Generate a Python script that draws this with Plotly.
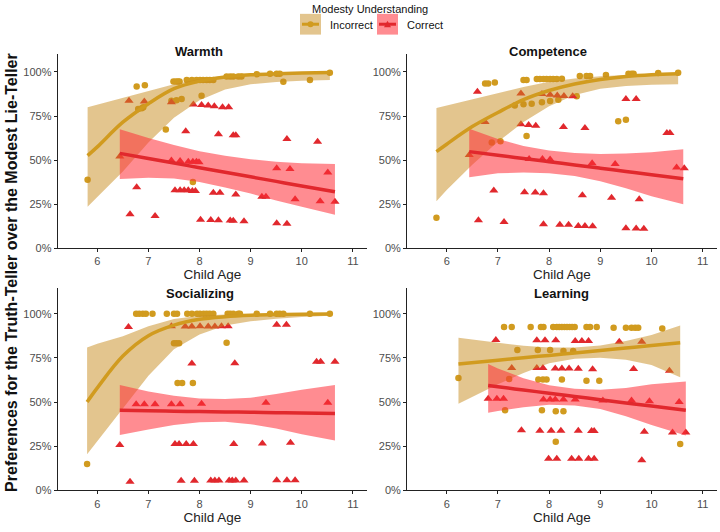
import plotly.graph_objects as go

# ---------------- data ----------------
warmth_inc_age = [5.81, 6.77, 6.93, 6.80, 6.87, 6.90, 7.34, 7.49, 7.54, 7.58, 7.61, 7.45, 7.55, 7.65, 7.87,
                  7.75, 7.85, 7.94, 8.01, 8.07, 8.14, 8.20, 8.27, 8.04, 8.53, 8.60, 8.66, 8.76, 8.82,
                  9.12, 9.38, 9.51, 9.57, 9.64, 10.16, 10.55]
warmth_inc_pref = [0.389, 0.918, 0.925, 0.79, 0.794, 0.80, 0.673, 0.946, 0.946, 0.946, 0.946, 0.837, 0.84, 0.847, 0.376,
                   0.955, 0.955, 0.955, 0.955, 0.955, 0.955, 0.955, 0.955, 0.865, 0.974, 0.974, 0.974, 0.974, 0.974,
                   0.987, 0.99, 0.99, 0.99, 0.944, 0.955, 0.996]
warmth_cor_age = [6.62, 6.92, 7.45, 6.44, 7.88, 8.04, 8.17, 8.29, 8.45, 8.57, 7.73, 8.37, 8.66, 8.71, 9.71, 10.31,
                  7.45, 7.62, 7.78, 7.87, 7.94, 7.99, 9.51, 9.77, 10.51, 6.77, 7.52, 7.62, 7.70, 7.78, 7.86, 7.92,
                  8.27, 8.40, 8.71, 9.22, 9.30, 9.87, 10.36, 10.65, 6.64, 7.13, 8.02, 8.22, 8.37, 8.60, 8.66, 8.87,
                  9.51, 9.71]
warmth_cor_pref = [0.837, 0.832, 0.828, 0.52, 0.815, 0.813, 0.81, 0.806, 0.80, 0.80, 0.664, 0.647, 0.641, 0.641, 0.619, 0.604,
                   0.497, 0.495, 0.49, 0.49, 0.49, 0.488, 0.454, 0.449, 0.43, 0.346, 0.329, 0.329, 0.329, 0.329, 0.324, 0.324,
                   0.314, 0.314, 0.305, 0.292, 0.292, 0.277, 0.267, 0.264, 0.193, 0.183, 0.162, 0.16, 0.158, 0.157, 0.155, 0.153,
                   0.142, 0.138]
warmth_inc_fit_age = [5.81, 6.0, 6.5, 7.0, 7.5, 8.0, 8.5, 9.0, 9.5, 10.0, 10.55]
warmth_inc_fit = [0.525, 0.575, 0.715, 0.82, 0.905, 0.948, 0.972, 0.984, 0.99, 0.994, 0.997]
warmth_inc_hi = [0.80, 0.815, 0.85, 0.89, 0.93, 0.96, 0.978, 0.987, 0.993, 0.996, 0.998]
warmth_inc_lo = [0.235, 0.29, 0.435, 0.60, 0.74, 0.84, 0.90, 0.93, 0.943, 0.95, 0.955]
warmth_cor_fit_age = [6.44, 7.0, 7.5, 8.0, 8.5, 9.0, 9.5, 10.0, 10.65]
warmth_cor_fit = [0.538, 0.509, 0.483, 0.457, 0.431, 0.405, 0.379, 0.353, 0.32]
warmth_cor_hi = [0.675, 0.625, 0.585, 0.55, 0.525, 0.505, 0.49, 0.482, 0.478]
warmth_cor_lo = [0.393, 0.40, 0.395, 0.375, 0.345, 0.31, 0.27, 0.235, 0.189]

competence_inc_age = [5.80, 6.75, 6.81, 6.94, 6.88, 7.05, 7.33, 7.50, 7.66, 7.86, 8.02, 8.18,
                      7.50, 7.56, 7.76, 7.82, 7.89, 7.95, 8.02, 8.08, 8.15, 8.25,
                      7.56, 8.54, 8.60, 8.73, 8.80, 9.11, 9.55, 9.61, 9.65, 9.35, 9.50, 10.13, 10.52]
competence_inc_pref = [0.172, 0.935, 0.935, 0.94, 0.60, 0.607, 0.81, 0.817, 0.82, 0.828, 0.836, 0.843,
                       0.955, 0.955, 0.96, 0.96, 0.96, 0.96, 0.96, 0.96, 0.96, 0.962,
                       0.636, 0.862, 0.977, 0.977, 0.977, 0.983, 0.99, 0.99, 0.99, 0.72, 0.729, 0.994, 0.996]
competence_cor_age = [6.60, 6.75, 6.44, 7.45, 7.45, 7.60, 7.74, 7.86, 8.02, 8.16, 8.29, 8.46,
                      8.28, 8.70, 7.61, 7.87, 8.02, 8.84, 9.29, 9.50, 9.70, 10.30, 10.36, 10.49, 10.64,
                      6.92, 7.52, 7.73, 7.89, 8.65, 9.22, 9.76,
                      6.62, 7.12, 7.89, 8.21, 8.38, 8.57, 8.70, 8.85, 9.50, 9.70, 9.85]
competence_cor_pref = [0.888, 0.716, 0.529, 0.878, 0.703, 0.699, 0.695, 0.875, 0.871, 0.867, 0.864, 0.862,
                       0.688, 0.682, 0.506, 0.506, 0.503, 0.482, 0.478, 0.847, 0.847, 0.654, 0.654, 0.458, 0.454,
                       0.327, 0.318, 0.316, 0.312, 0.30, 0.286, 0.278,
                       0.159, 0.148, 0.136, 0.133, 0.133, 0.126, 0.126, 0.124, 0.113, 0.111, 0.11]
competence_inc_fit_age = [5.80, 6.0, 6.5, 7.0, 7.5, 8.0, 8.5, 9.0, 9.5, 10.0, 10.52]
competence_inc_fit = [0.548, 0.59, 0.69, 0.77, 0.843, 0.895, 0.932, 0.958, 0.975, 0.985, 0.99]
competence_inc_hi = [0.796, 0.81, 0.845, 0.88, 0.915, 0.945, 0.963, 0.976, 0.985, 0.99, 0.995]
competence_inc_lo = [0.267, 0.33, 0.473, 0.604, 0.716, 0.805, 0.87, 0.905, 0.92, 0.928, 0.93]
competence_cor_fit_age = [6.44, 7.0, 7.5, 8.0, 8.5, 9.0, 9.5, 10.0, 10.62]
competence_cor_fit = [0.548, 0.527, 0.509, 0.491, 0.472, 0.454, 0.435, 0.417, 0.394]
competence_cor_hi = [0.678, 0.62, 0.58, 0.555, 0.54, 0.535, 0.537, 0.545, 0.561]
competence_cor_lo = [0.402, 0.425, 0.43, 0.425, 0.41, 0.38, 0.34, 0.295, 0.249]

socializing_inc_age = [5.80, 6.76, 6.82, 6.89, 6.95, 7.08, 7.36, 7.50, 7.56, 7.76, 7.85, 7.95, 8.01, 8.08, 8.14,
                       8.20, 8.27, 8.55, 8.60, 8.66, 8.76, 8.79, 9.12, 9.38, 9.51, 9.57, 9.64, 10.16, 10.55,
                       7.50, 7.55, 7.60, 8.53, 7.57, 7.66, 7.87]
socializing_inc_pref = [0.149, 1.0, 1.0, 1.0, 1.0, 1.0, 1.0, 1.0, 1.0, 1.0, 1.0, 1.0, 1.0, 1.0, 1.0,
                        1.0, 1.0, 1.0, 1.0, 1.0, 1.0, 1.0, 1.0, 1.0, 1.0, 1.0, 1.0, 1.0, 1.0,
                        0.832, 0.832, 0.832, 0.836, 0.608, 0.608, 0.608]
socializing_cor_age = [6.61, 7.45, 7.72, 7.85, 8.01, 8.17, 8.30, 8.43, 8.56, 9.51, 9.70,
                       7.85, 8.69, 10.29, 10.37, 10.65,
                       6.76, 6.92, 7.13, 7.45, 7.62, 8.04, 9.30, 10.51,
                       6.44, 7.52, 7.60, 7.74, 7.88, 8.67, 9.23, 9.78,
                       6.64, 7.64, 7.90, 8.22, 8.30, 8.38, 8.58, 8.64, 8.71, 8.87, 9.51, 9.71, 9.87]
socializing_cor_pref = [0.925, 0.929, 0.927, 0.927, 0.929, 0.927, 0.927, 0.929, 0.929, 0.937, 0.937,
                        0.718, 0.72, 0.728, 0.728, 0.728,
                        0.487, 0.487, 0.487, 0.487, 0.487, 0.49, 0.496, 0.496,
                        0.257, 0.263, 0.263, 0.263, 0.263, 0.263, 0.265, 0.269,
                        0.049, 0.054, 0.054, 0.056, 0.056, 0.056, 0.056, 0.056, 0.056, 0.056, 0.058, 0.058, 0.058]
socializing_inc_fit_age = [5.80, 6.0, 6.5, 7.0, 7.5, 8.0, 8.5, 9.0, 9.5, 10.0, 10.55]
socializing_inc_fit = [0.50, 0.58, 0.76, 0.875, 0.935, 0.968, 0.983, 0.991, 0.995, 0.997, 0.998]
socializing_inc_hi = [0.808, 0.83, 0.873, 0.929, 0.97, 0.989, 0.995, 0.998, 0.999, 1.0, 1.0]
socializing_inc_lo = [0.205, 0.28, 0.463, 0.649, 0.799, 0.882, 0.933, 0.957, 0.972, 0.981, 0.989]
socializing_cor_fit_age = [6.44, 7.0, 7.5, 8.0, 8.5, 9.0, 9.5, 10.0, 10.65]
socializing_cor_fit = [0.453, 0.451, 0.448, 0.446, 0.444, 0.442, 0.440, 0.438, 0.435]
socializing_cor_hi = [0.597, 0.56, 0.535, 0.52, 0.517, 0.525, 0.545, 0.57, 0.597]
socializing_cor_lo = [0.313, 0.345, 0.37, 0.385, 0.388, 0.375, 0.35, 0.318, 0.282]

learning_inc_age = [6.23, 7.12, 7.27, 7.38, 7.22, 7.14, 7.64, 7.84, 7.89,
                    7.78, 8.02, 8.28, 8.47, 7.79, 7.88, 7.95, 8.25,
                    7.86, 8.13, 8.28, 8.13,
                    8.08, 8.15, 8.20, 8.25, 8.30, 8.35, 8.40, 8.45, 8.50, 8.73, 8.80, 8.93,
                    8.73, 8.98, 9.26, 9.50, 9.61, 9.68, 9.74, 10.21, 10.56]
learning_inc_pref = [0.636, 0.925, 0.925, 0.795, 0.63, 0.453, 0.925, 0.925, 0.925,
                     0.795, 0.795, 0.789, 0.789, 0.627, 0.627, 0.627, 0.627,
                     0.453, 0.448, 0.448, 0.276,
                     0.925, 0.925, 0.925, 0.925, 0.925, 0.925, 0.925, 0.925, 0.925, 0.925, 0.925, 0.925,
                     0.621, 0.621, 0.92, 0.92, 0.92, 0.92, 0.92, 0.916, 0.263]
learning_cor_age = [6.96, 7.27, 6.81, 6.98, 7.11,
                    7.76, 7.92, 8.13, 8.51, 8.64, 8.77, 9.37, 9.81,
                    7.76, 7.88, 8.12, 8.25, 8.39, 8.57, 8.85, 9.65, 10.35,
                    7.89, 8.02, 8.12, 8.28, 8.51, 9.05, 9.61, 9.96, 10.54,
                    7.46, 7.82, 8.04, 8.23, 8.57, 8.83, 8.88, 9.86, 10.41, 10.67,
                    7.99, 8.15, 8.44, 8.58, 8.77, 8.88, 9.81]
learning_cor_pref = [0.851, 0.692, 0.519, 0.519, 0.519,
                     0.849, 0.849, 0.849, 0.845, 0.845, 0.845, 0.841, 0.841,
                     0.692, 0.692, 0.69, 0.69, 0.69, 0.688, 0.685, 0.687, 0.677,
                     0.515, 0.515, 0.515, 0.515, 0.515, 0.509, 0.509, 0.504, 0.50,
                     0.341, 0.338, 0.338, 0.338, 0.338, 0.336, 0.336, 0.332, 0.328, 0.328,
                     0.179, 0.179, 0.179, 0.179, 0.179, 0.179, 0.17]
learning_inc_fit_age = [6.23, 7.0, 7.5, 8.0, 8.5, 9.0, 9.5, 10.0, 10.56]
learning_inc_fit = [0.715, 0.737, 0.751, 0.764, 0.778, 0.792, 0.806, 0.820, 0.836]
learning_inc_hi = [0.864, 0.835, 0.818, 0.808, 0.808, 0.82, 0.845, 0.88, 0.933]
learning_inc_lo = [0.491, 0.60, 0.665, 0.72, 0.745, 0.75, 0.74, 0.71, 0.64]
learning_cor_fit_age = [6.81, 7.0, 7.5, 8.0, 8.5, 9.0, 9.5, 10.0, 10.67]
learning_cor_fit = [0.593, 0.586, 0.568, 0.550, 0.532, 0.513, 0.495, 0.477, 0.453]
learning_cor_hi = [0.715, 0.69, 0.635, 0.595, 0.575, 0.57, 0.58, 0.60, 0.616]
learning_cor_lo = [0.44, 0.45, 0.47, 0.485, 0.48, 0.46, 0.42, 0.37, 0.31]

panel_titles = ["Warmth", "Competence", "Socializing", "Learning"]
x_ticks = [6, 7, 8, 9, 10, 11]
y_ticks = [0, 0.25, 0.5, 0.75, 1.0]
y_tick_labels = ["0%", "25%", "50%", "75%", "100%"]
group_names = ["Incorrect", "Correct"]

# ---------------- styling ----------------
GOLD = "#D19B1F"
RED = "#E1282D"
GOLD_FILL = "rgba(200,140,30,0.5)"
RED_FILL = "rgba(255,45,55,0.55)"
FONT = "Liberation Sans, Arial, Helvetica, sans-serif"
W, H = 720, 532


def fx(p):
    return p / W


def fy(p):
    return 1 - p / H


panels = [
    dict(inc=(warmth_inc_age, warmth_inc_pref), cor=(warmth_cor_age, warmth_cor_pref),
         incfit=(warmth_inc_fit_age, warmth_inc_fit, warmth_inc_lo, warmth_inc_hi),
         corfit=(warmth_cor_fit_age, warmth_cor_fit, warmth_cor_lo, warmth_cor_hi),
         xd=(57.7, 366.9), yd=(251, 55), ymax=1.1, tx=199, ty=51.7),
    dict(inc=(competence_inc_age, competence_inc_pref), cor=(competence_cor_age, competence_cor_pref),
         incfit=(competence_inc_fit_age, competence_inc_fit, competence_inc_lo, competence_inc_hi),
         corfit=(competence_cor_fit_age, competence_cor_fit, competence_cor_lo, competence_cor_hi),
         xd=(407.0, 716.8), yd=(251, 55), ymax=1.1, tx=548, ty=51.7),
    dict(inc=(socializing_inc_age, socializing_inc_pref), cor=(socializing_cor_age, socializing_cor_pref),
         incfit=(socializing_inc_fit_age, socializing_inc_fit, socializing_inc_lo, socializing_inc_hi),
         corfit=(socializing_cor_fit_age, socializing_cor_fit, socializing_cor_lo, socializing_cor_hi),
         xd=(57.7, 366.9), yd=(496, 291.7), ymax=1.143, tx=200, ty=296.7),
    dict(inc=(learning_inc_age, learning_inc_pref), cor=(learning_cor_age, learning_cor_pref),
         incfit=(learning_inc_fit_age, learning_inc_fit, learning_inc_lo, learning_inc_hi),
         corfit=(learning_cor_fit_age, learning_cor_fit, learning_cor_lo, learning_cor_hi),
         xd=(407.0, 716.8), yd=(496, 291.7), ymax=1.143, tx=561, ty=296.7),
]

fig = go.Figure()
annotations = []
layout_axes = {}

for i, p in enumerate(panels, start=1):
    xa = "x" if i == 1 else f"x{i}"
    ya = "y" if i == 1 else f"y{i}"
    # points
    fig.add_trace(go.Scatter(x=p["inc"][0], y=p["inc"][1], mode="markers", xaxis=xa, yaxis=ya,
                             marker=dict(symbol="circle", size=6.5, color=GOLD), name=group_names[0],
                             showlegend=False, hoverinfo="skip"))
    fig.add_trace(go.Scatter(x=p["cor"][0], y=p["cor"][1], mode="markers", xaxis=xa, yaxis=ya,
                             marker=dict(symbol="triangle-up", size=8, color=RED), name=group_names[1],
                             showlegend=False, hoverinfo="skip"))
    # ribbons
    for fit, fill in ((p["incfit"], GOLD_FILL), (p["corfit"], RED_FILL)):
        ax_, mid, lo, hi = fit
        fig.add_trace(go.Scatter(x=list(ax_) + list(ax_[::-1]), y=list(hi) + list(lo[::-1]),
                                 mode="lines", fill="toself", fillcolor=fill, line=dict(width=0),
                                 xaxis=xa, yaxis=ya, showlegend=False, hoverinfo="skip"))
    # fit lines
    for fit, col in ((p["incfit"], GOLD), (p["corfit"], RED)):
        ax_, mid, lo, hi = fit
        fig.add_trace(go.Scatter(x=ax_, y=mid, mode="lines", line=dict(color=col, width=3.5, shape="spline"),
                                 xaxis=xa, yaxis=ya, showlegend=False, hoverinfo="skip"))

    xkey = "xaxis" if i == 1 else f"xaxis{i}"
    ykey = "yaxis" if i == 1 else f"yaxis{i}"
    layout_axes[xkey] = dict(domain=[fx(p["xd"][0]), fx(p["xd"][1])], range=[5.225, 11.275], anchor=ya,
                             tickvals=x_ticks, ticks="outside", ticklen=3, tickcolor="#222", showline=True,
                             linecolor="#222", linewidth=1, showgrid=False, zeroline=False,
                             tickfont=dict(size=11, color="#4D4D4D", family=FONT),
                             title=dict(text="Child Age", font=dict(size=13.5, color="#222", family=FONT), standoff=3))
    layout_axes[ykey] = dict(domain=[fy(p["yd"][0]), fy(p["yd"][1])], range=[0, p["ymax"]], anchor=xa,
                             tickvals=y_ticks, ticktext=y_tick_labels, ticks="outside", ticklen=3,
                             tickcolor="#222", showline=True, linecolor="#222", linewidth=1, showgrid=False,
                             zeroline=False, tickfont=dict(size=11, color="#4D4D4D", family=FONT))
    annotations.append(dict(text="<b>" + panel_titles[i - 1] + "</b>", x=fx(p["tx"]), y=fy(p["ty"]),
                            xref="paper", yref="paper", showarrow=False, xanchor="center", yanchor="middle",
                            font=dict(size=13, color="#111", family=FONT)))

# shared y title
annotations.append(dict(text="<b>Preferences for the Truth-Teller over the Modest Lie-Teller</b>",
                        x=fx(12), y=fy(276), xref="paper", yref="paper", showarrow=False, textangle=-90,
                        xanchor="center", yanchor="middle", font=dict(size=16, color="#111", family=FONT)))
# legend texts
annotations.append(dict(text="Modesty Understanding", x=fx(370), y=fy(9), xref="paper", yref="paper",
                        showarrow=False, xanchor="center", yanchor="middle", font=dict(size=11, color="#111", family=FONT)))
annotations.append(dict(text=group_names[0], x=fx(328), y=fy(25), xref="paper", yref="paper",
                        showarrow=False, xanchor="left", yanchor="middle", font=dict(size=11, color="#111", family=FONT)))
annotations.append(dict(text=group_names[1], x=fx(405), y=fy(25), xref="paper", yref="paper",
                        showarrow=False, xanchor="left", yanchor="middle", font=dict(size=11, color="#111", family=FONT)))

# legend keys
shapes = []
for (x0, x1), fill, col, sym in (((300, 321), GOLD_FILL, GOLD, "c"), ((377, 398), RED_FILL, RED, "t")):
    shapes.append(dict(type="rect", xref="paper", yref="paper", x0=fx(x0), x1=fx(x1), y0=fy(35), y1=fy(14),
                       fillcolor=fill, line=dict(width=0)))
    shapes.append(dict(type="line", xref="paper", yref="paper", x0=fx(x0 + 2), x1=fx(x1 - 2), y0=fy(24.5),
                       y1=fy(24.5), line=dict(color=col, width=3)))
    cx = (x0 + x1) / 2
    if sym == "c":
        shapes.append(dict(type="circle", xref="paper", yref="paper", x0=fx(cx - 3), x1=fx(cx + 3),
                           y0=fy(27.5), y1=fy(21.5), fillcolor=col, line=dict(width=0)))
    else:
        path = "M {:.5f} {:.5f} L {:.5f} {:.5f} L {:.5f} {:.5f} Z".format(
            fx(cx - 3.5), fy(27.5), fx(cx + 3.5), fy(27.5), fx(cx), fy(21))
        shapes.append(dict(type="path", xref="paper", yref="paper", path=path, fillcolor=col, line=dict(width=0)))

fig.update_layout(width=W, height=H, margin=dict(l=0, r=0, t=0, b=0), paper_bgcolor="white",
                  plot_bgcolor="white", showlegend=False, annotations=annotations, shapes=shapes,
                  font=dict(family=FONT), **layout_axes)

fig.write_html("out.html")
